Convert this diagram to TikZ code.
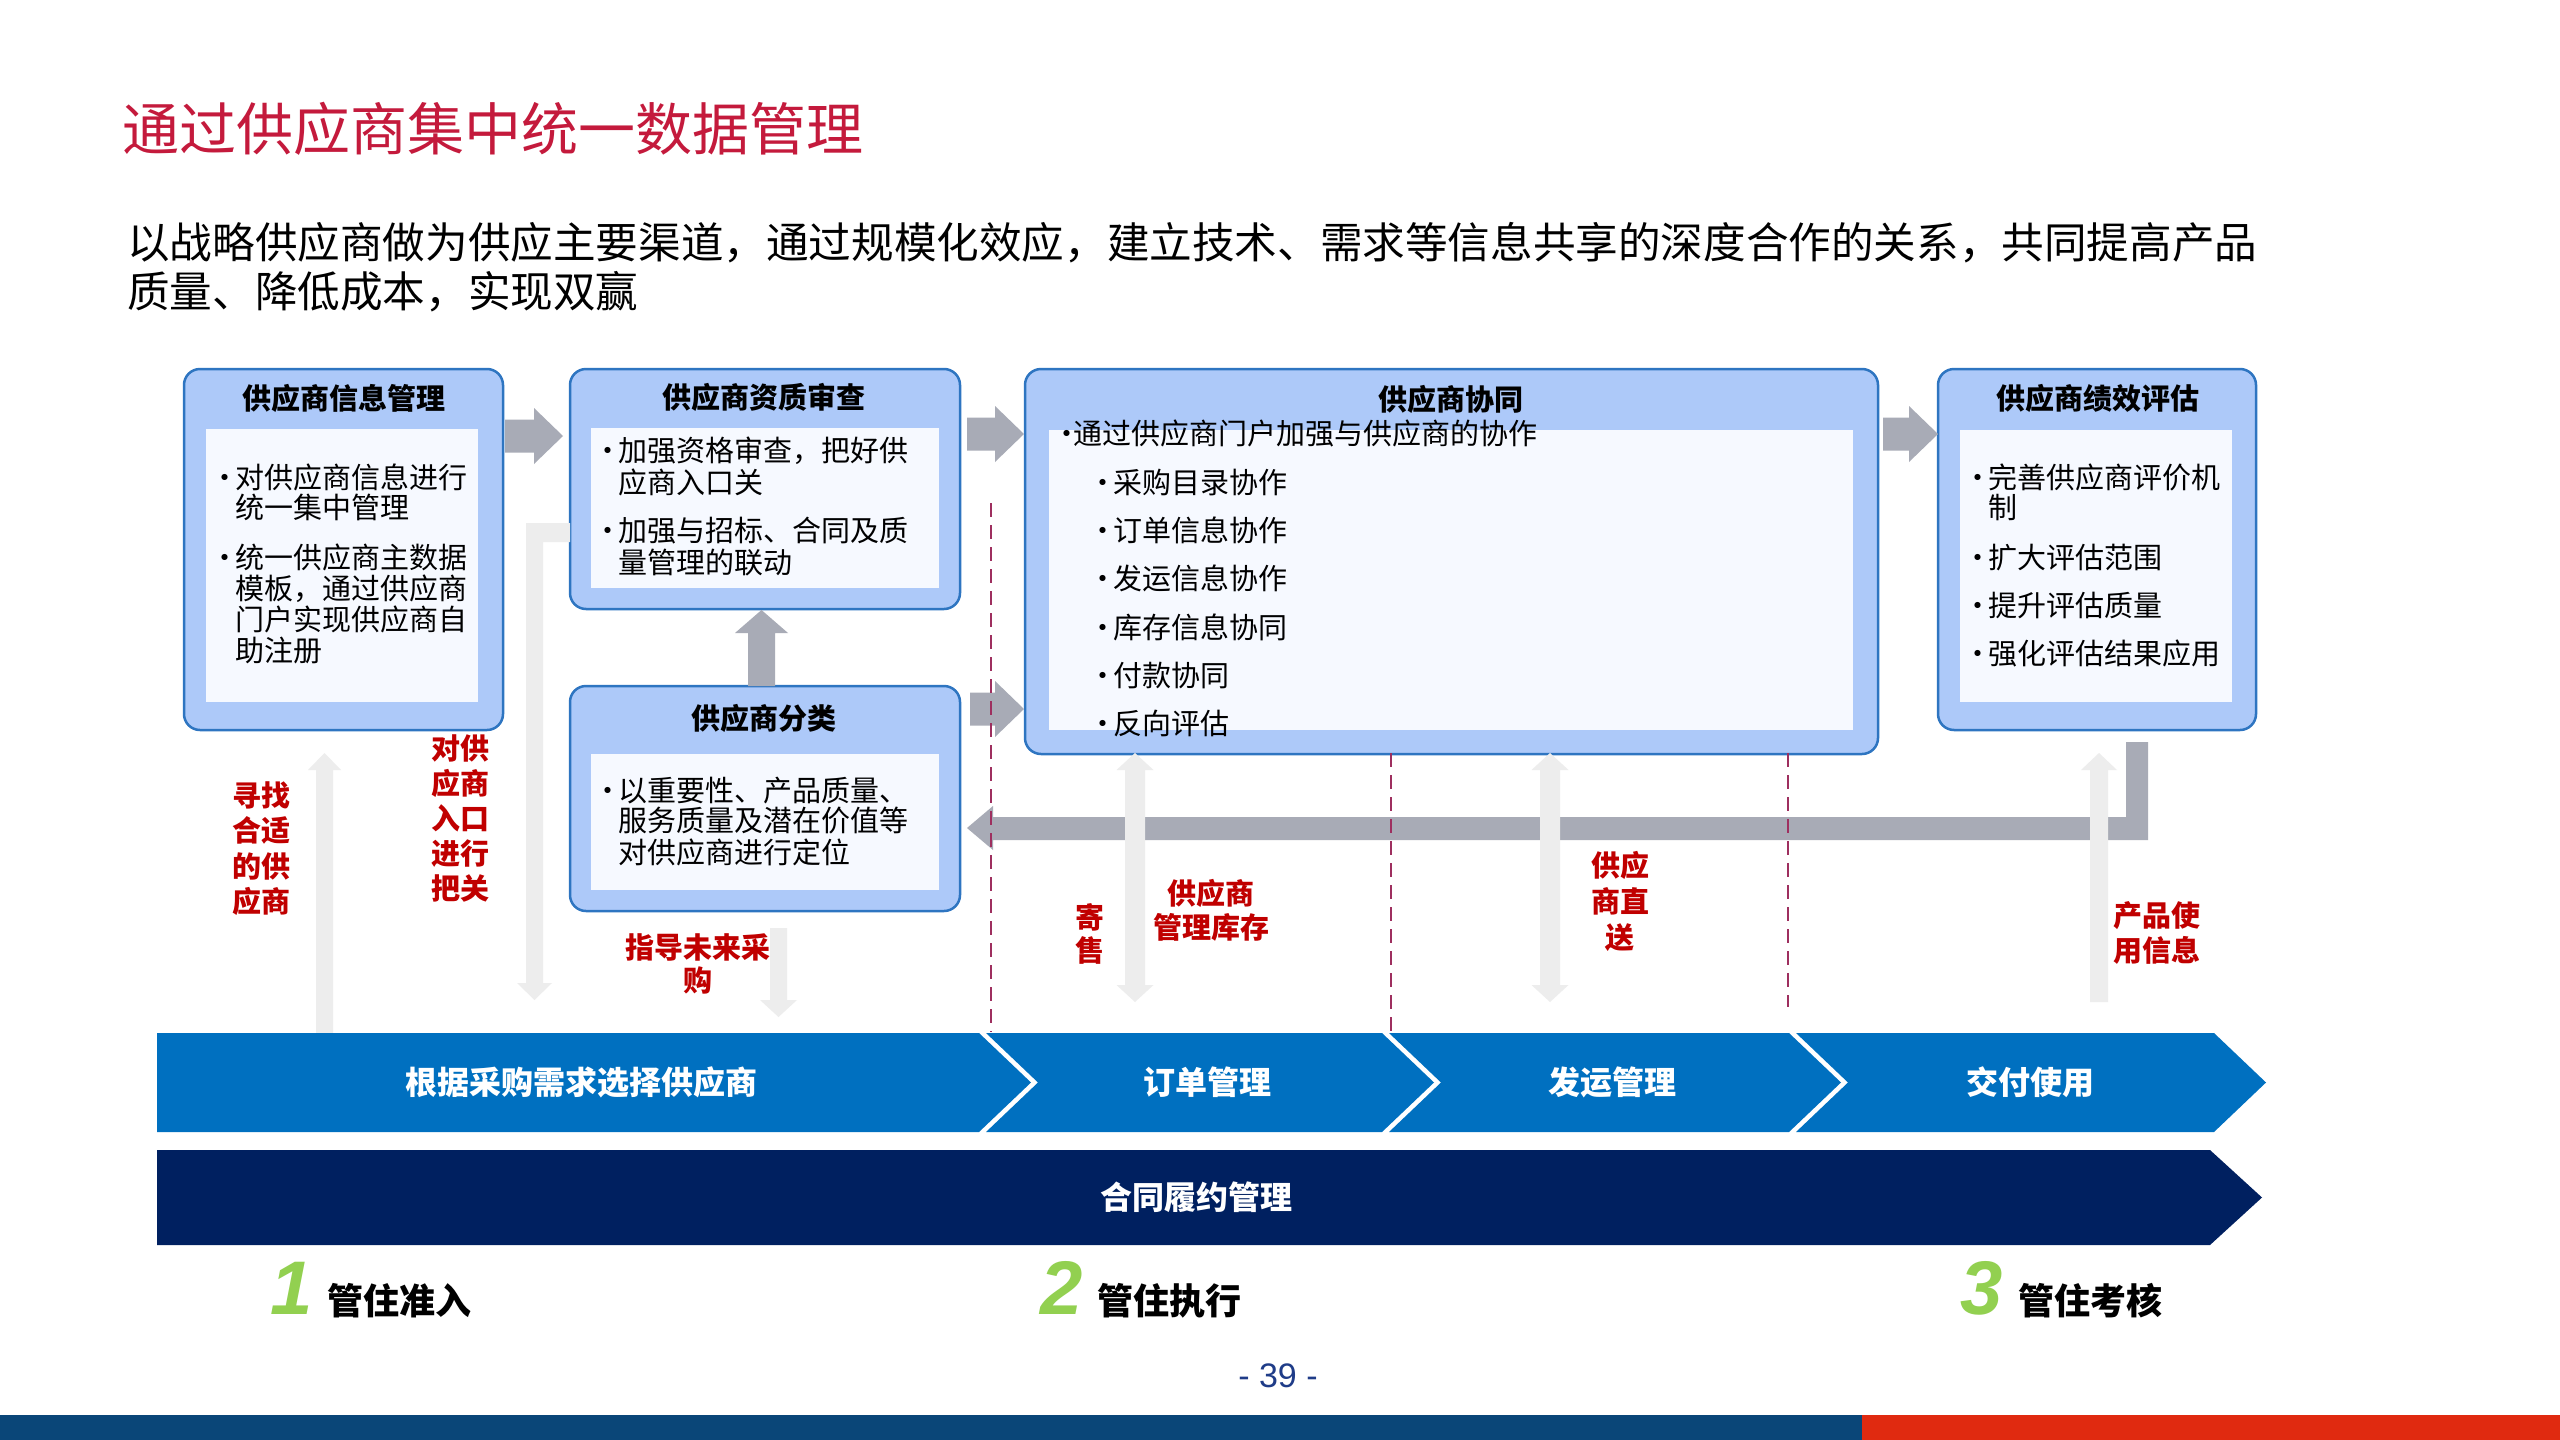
\documentclass[tikz,border=0pt]{standalone}
\usepackage{fontspec}
\setmainfont{Noto Sans CJK SC}
\newfontfamily\latinfont{Liberation Sans}
\usetikzlibrary{calc}
\definecolor{titlered}{HTML}{C41A3C}
\definecolor{boxfill}{HTML}{ADC9F9}
\definecolor{boxborder}{HTML}{2E75C1}
\definecolor{inwhite}{HTML}{F6F9FF}
\definecolor{arrgrey}{HTML}{A8ABB6}
\definecolor{lightarr}{HTML}{EDEDED}
\definecolor{dashred}{HTML}{9E2F5F}
\definecolor{labelred}{HTML}{C00000}
\definecolor{chevblue}{HTML}{0070C0}
\definecolor{navy}{HTML}{002060}
\definecolor{numgreen}{HTML}{92D050}
\definecolor{pagenum}{HTML}{1F3C88}
\definecolor{stripeblue}{HTML}{0A4678}
\definecolor{stripered}{HTML}{E02A10}
\tikzset{
  box/.style={draw=boxborder, line width=2.5pt, fill=boxfill, rounded corners=16pt, inner sep=0pt},
  inbox/.style={fill=inwhite, draw=none, inner sep=0pt},
  txt/.style={inner sep=0pt},
  body/.style={txt, anchor=west, text height=25.5pt, text depth=3.5pt, font=\fontsize{29}{31}\selectfont},
  btitle/.style={txt, text height=25.5pt, text depth=3.5pt, font=\bfseries\fontsize{29}{31}\selectfont},
  redl/.style={txt, text height=25.5pt, text depth=3.5pt, font=\bfseries\fontsize{29}{31}\selectfont, text=labelred},
  chevtxt/.style={txt, text height=28.2pt, text depth=3.8pt, font=\bfseries\fontsize{32}{34}\selectfont, text=white},
  numst/.style={txt, anchor=base west, font=\latinfont\bfseries\itshape\fontsize{76}{80}\selectfont, text=numgreen},
  garrow/.style={fill=arrgrey, draw=none},
  larrow/.style={fill=lightarr, draw=none},
  dline/.style={draw=dashred, line width=2pt, dash pattern=on 14pt off 8pt},
}
% bulleted line: text starts at x (#2), bullet centred 10pt to its left
\newcommand\bl[4]{\node[body] (#1) at ({#2-15},#3) {\makebox[10pt][c]{•}\hspace{5pt}#4};}
\newcommand\rarr[3]{\fill[garrow] (#1,{#3-16.5}) -- ({#2-29},{#3-16.5}) -- ({#2-29},{#3-28}) -- (#2,#3) -- ({#2-29},{#3+28}) -- ({#2-29},{#3+16.5}) -- (#1,{#3+16.5}) -- cycle;}
\newcommand\darr[1]{\fill[larrow] ({#1-10},770) -- ({#1-18.5},770) -- (#1,753) -- ({#1+18.5},770) -- ({#1+10},770) -- ({#1+10},985) -- ({#1+18.5},985) -- (#1,1002) -- ({#1-18.5},985) -- ({#1-10},985) -- cycle;}
\begin{document}
\begin{tikzpicture}[x=1pt,y=-1pt]
\useasboundingbox (0,0) rectangle (2560,1440);
\fill[white] (0,0) rectangle (2560,1440);

% title and subtitle
\node[txt, anchor=west, text height=50.2pt, text depth=6.8pt, font=\fontsize{57}{66}\selectfont, text=titlered] (title) at (122,129) {通过供应商集中统一数据管理};
\node[txt, anchor=west, text height=37.5pt, text depth=5.1pt, font=\fontsize{42.6}{49}\selectfont] (sub1) at (127,242) {以战略供应商做为供应主要渠道，通过规模化效应，建立技术、需求等信息共享的深度合作的关系，共同提高产品};
\node[txt, anchor=west, text height=37.5pt, text depth=5.1pt, font=\fontsize{42.6}{49}\selectfont] (sub2) at (127,291) {质量、降低成本，实现双赢};

% boxes
\node[box, minimum width=319pt, minimum height=361pt] (b1) at (343.5,549.5) {};
\node[inbox, minimum width=272pt, minimum height=273pt] (b1i) at (342,565.5) {};
\node[box, minimum width=390pt, minimum height=240pt] (b2) at (765,489) {};
\node[inbox, minimum width=348pt, minimum height=160pt] (b2i) at (765,508) {};
\node[box, minimum width=390pt, minimum height=225pt] (b3) at (765,798.5) {};
\node[inbox, minimum width=348pt, minimum height=136pt] (b3i) at (765,822) {};
\node[box, minimum width=853pt, minimum height=385pt] (b4) at (1451.5,561.5) {};
\node[inbox, minimum width=804pt, minimum height=300pt] (b4i) at (1451,580) {};
\node[box, minimum width=318pt, minimum height=361pt] (b5) at (2097,549.5) {};
\node[inbox, minimum width=272pt, minimum height=272pt] (b5i) at (2096,566) {};

% box titles
\node[btitle] (t1) at (344,398) {供应商信息管理};
\node[btitle] (t2) at (764,397) {供应商资质审查};
\node[btitle] (t3) at (764,718) {供应商分类};
\node[btitle] (t4) at (1451,399) {供应商协同};
\node[btitle] (t5) at (2098,398) {供应商绩效评估};

% box 1 text
\bl{b1a}{235}{477}{对供应商信息进行}
\node[body] (b1a2) at (235,507) {统一集中管理};
\bl{b1b}{235}{557}{统一供应商主数据}
\node[body] (b1b2) at (235,588) {模板，通过供应商};
\node[body] (b1b3) at (235,619) {门户实现供应商自};
\node[body] (b1b4) at (235,650) {助注册};
% box 2 text
\bl{b2a}{618}{450}{加强资格审查，把好供}
\node[body] (b2a2) at (618,482) {应商入口关};
\bl{b2b}{618}{530}{加强与招标、合同及质}
\node[body] (b2b2) at (618,562) {量管理的联动};
% box 3 text
\bl{b3a}{618}{790}{以重要性、产品质量、}
\node[body] (b3a2) at (618,820) {服务质量及潜在价值等};
\node[body] (b3a3) at (618,852) {对供应商进行定位};
% box 4 text
\node[body] (b4a) at (1062,433) {\makebox[10pt][c]{•}\hspace{1pt}通过供应商门户加强与供应商的协作};
\bl{b4b}{1113}{482}{采购目录协作}
\bl{b4c}{1113}{530}{订单信息协作}
\bl{b4d}{1113}{578}{发运信息协作}
\bl{b4e}{1113}{627}{库存信息协同}
\bl{b4f}{1113}{675}{付款协同}
\bl{b4g}{1113}{723}{反向评估}
% box 5 text
\bl{b5a}{1988}{477}{完善供应商评价机}
\node[body] (b5a2) at (1988,507) {制};
\bl{b5b}{1988}{557}{扩大评估范围}
\bl{b5c}{1988}{605}{提升评估质量}
\bl{b5d}{1988}{653}{强化评估结果应用}

% grey block arrows
\rarr{505}{563}{436}
\rarr{967}{1024}{434}
\rarr{970}{1024}{709}
\rarr{1883}{1938}{434}
\fill[garrow] (748,686) -- (748,633) -- (735,633) -- (761.5,610) -- (788,633) -- (775,633) -- (775,686) -- cycle;
% feedback bar
\fill[garrow] (2148,742) -- (2148,840) -- (993,840) -- (993,850) -- (967,828) -- (993,806) -- (993,817) -- (2126,817) -- (2126,742) -- cycle;

% light arrows
\fill[larrow] (316,1038) -- (316,770) -- (308,770) -- (324.5,753) -- (341,770) -- (333,770) -- (333,1038) -- cycle;
\fill[larrow] (570,523) -- (526,523) -- (526,983) -- (517,983) -- (534.5,1000) -- (552,983) -- (543,983) -- (543,542) -- (570,542) -- cycle;
\fill[larrow] (770,928) -- (770,1000) -- (760,1000) -- (778.5,1017) -- (797,1000) -- (787,1000) -- (787,928) -- cycle;
\darr{1135}
\darr{1550}
\fill[larrow] (2090,1002) -- (2090,770) -- (2081,770) -- (2099,753) -- (2117,770) -- (2108,770) -- (2108,1002) -- cycle;

% dashed dividers
\draw[dline] (991,503) -- (991,1032);
\draw[dline] (1391,753) -- (1391,1033);
\draw[dline] (1788,753) -- (1788,1007);

% red labels
\foreach \t [count=\i] in {寻找,合适,的供,应商} \node[redl] (r1-\i) at (261,{795+35.5*(\i-1)}) {\t};
\foreach \t [count=\i] in {对供,应商,入口,进行,把关} \node[redl] (r2-\i) at (460,{748+35*(\i-1)}) {\t};
\foreach \t [count=\i] in {指导未来采,购} \node[redl] (r3-\i) at (698,{947+33*(\i-1)}) {\t};
\foreach \t [count=\i] in {寄,售} \node[redl] (r4-\i) at (1090,{917+33*(\i-1)}) {\t};
\foreach \t [count=\i] in {供应商,管理库存} \node[redl] (r5-\i) at (1211,{893+34*(\i-1)}) {\t};
\foreach \t [count=\i] in {供应,商直,送} \node[redl] (r6-\i) at (1620,{865+36*(\i-1)}) {\t};
\foreach \t [count=\i] in {产品使,用信息} \node[redl] (r7-\i) at (2157,{915+35*(\i-1)}) {\t};

% chevrons
\fill[chevblue] (157,1033) -- (979,1033) -- (1031,1082.5) -- (979,1132) -- (157,1132) -- cycle;
\fill[chevblue] (986,1033) -- (1382,1033) -- (1434,1082.5) -- (1382,1132) -- (986,1132) -- (1038,1082.5) -- cycle;
\fill[chevblue] (1389,1033) -- (1789,1033) -- (1841,1082.5) -- (1789,1132) -- (1389,1132) -- (1441,1082.5) -- cycle;
\fill[chevblue] (1796,1033) -- (2214,1033) -- (2266,1082.5) -- (2214,1132) -- (1796,1132) -- (1848,1082.5) -- cycle;
\node[chevtxt] (c1) at (581,1082) {根据采购需求选择供应商};
\node[chevtxt] (c2) at (1207,1082) {订单管理};
\node[chevtxt] (c3) at (1612,1082) {发运管理};
\node[chevtxt] (c4) at (2030,1082) {交付使用};
\fill[navy] (157,1150) -- (2210,1150) -- (2262,1197.5) -- (2210,1245) -- (157,1245) -- cycle;
\node[chevtxt] (c5) at (1196,1197) {合同履约管理};

% bottom labels
\node[numst] (n1) at (270,1314) {1};
\node[numst] (n2) at (1040,1314) {2};
\node[numst] (n3) at (1960,1314) {3};
\node[txt, anchor=west, text height=31.7pt, text depth=4.3pt, font=\bfseries\fontsize{36}{40}\selectfont] (m1) at (327,1301) {管住准入};
\node[txt, anchor=west, text height=31.7pt, text depth=4.3pt, font=\bfseries\fontsize{36}{40}\selectfont] (m2) at (1097,1301) {管住执行};
\node[txt, anchor=west, text height=31.7pt, text depth=4.3pt, font=\bfseries\fontsize{36}{40}\selectfont] (m3) at (2018,1301) {管住考核};

% page number and stripe
\node[txt, font=\latinfont\fontsize{34}{36}\selectfont, text=pagenum] (pg) at (1278,1376) {- 39 -};
\fill[stripeblue] (0,1415) rectangle (1862,1440);
\fill[stripered] (1862,1415) rectangle (2560,1440);
\end{tikzpicture}
\end{document}
